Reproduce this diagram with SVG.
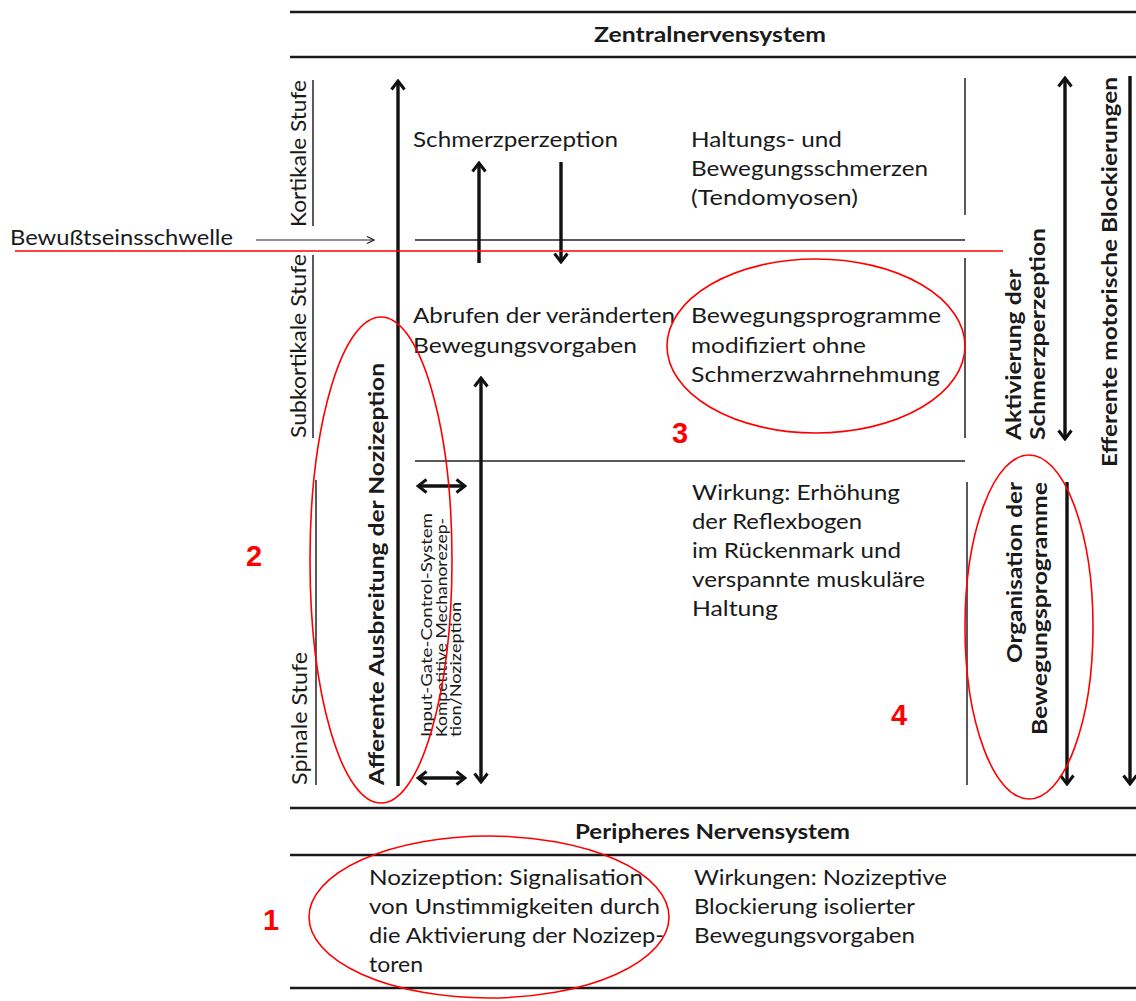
<svg xmlns="http://www.w3.org/2000/svg" width="1136" height="1001" viewBox="0 0 1136 1001">
<defs>
<style>
.t{font-family:Lato,"Open Sans","Liberation Sans",sans-serif;font-size:21.5px;fill:#1a1a1a}
.b{font-weight:bold}
.s{font-size:15.5px}
.num{font-family:"Liberation Sans",Arial,sans-serif;font-weight:bold;font-size:29px;fill:#f00}
.rule{stroke:#1a1a1a;stroke-width:2.6;fill:none}
.thin{stroke:#222;stroke-width:1.5;fill:none}
.arr{stroke:#111;stroke-width:3.4;fill:none}
.red{stroke:#f00;stroke-width:1.6;fill:none}
</style>
<marker id="ah" markerUnits="userSpaceOnUse" viewBox="-12 -9 14 18" refX="0" refY="0" markerWidth="14" markerHeight="18" orient="auto-start-reverse">
<path d="M-8.5,-6.5 L0,0 L-8.5,6.5" fill="none" stroke="#111" stroke-width="3"/>
</marker>
<marker id="ahs" markerUnits="userSpaceOnUse" viewBox="-9 -5 10 10" refX="0" refY="0" markerWidth="10" markerHeight="10" orient="auto">
<path d="M-7,-3.5 L0,0 L-7,3.5" fill="none" stroke="#222" stroke-width="1.2"/>
</marker>
</defs>
<rect width="1136" height="1001" fill="#fff"/>

<g id="frame">
<line class="rule" x1="290" y1="12" x2="1136" y2="12"/>
<line class="rule" x1="290" y1="57" x2="1136" y2="57"/>
<line class="rule" x1="290" y1="808" x2="1136" y2="808"/>
<line class="rule" x1="290" y1="855" x2="1136" y2="855"/>
<line class="rule" x1="290" y1="988" x2="1136" y2="988"/>
<line class="thin" x1="313" y1="80" x2="313" y2="226"/>
<line class="thin" x1="313" y1="255" x2="313" y2="438"/>
<line class="thin" x1="316" y1="480" x2="316" y2="785"/>
<line class="thin" x1="415" y1="240" x2="965" y2="240"/>
<line class="thin" x1="415" y1="461" x2="965" y2="461"/>
<line class="thin" x1="965" y1="78" x2="965" y2="215"/>
<line class="thin" x1="965" y1="258" x2="965" y2="438"/>
<line class="thin" x1="967" y1="482" x2="967" y2="785"/>
</g>

<g id="title-zns"><text class="t b" x="594" y="42" textLength="232" lengthAdjust="spacingAndGlyphs">Zentralnervensystem</text></g>
<g id="title-pns"><text class="t b" x="575" y="839" textLength="275" lengthAdjust="spacingAndGlyphs">Peripheres Nervensystem</text></g>

<g id="level-kortikal"><text class="t" transform="translate(306,227) rotate(-90)" textLength="147" lengthAdjust="spacingAndGlyphs">Kortikale Stufe</text></g>
<g id="level-subkortikal"><text class="t" transform="translate(306,438) rotate(-90)" textLength="184" lengthAdjust="spacingAndGlyphs">Subkortikale Stufe</text></g>
<g id="level-spinal"><text class="t" transform="translate(307,785) rotate(-90)" textLength="133" lengthAdjust="spacingAndGlyphs">Spinale Stufe</text></g>

<g id="threshold">
<text class="t" x="10" y="245" textLength="223" lengthAdjust="spacingAndGlyphs">Bewußtseinsschwelle</text>
</g>

<g id="afferent"><text class="t b" transform="translate(384,785) rotate(-90)" textLength="422" lengthAdjust="spacingAndGlyphs">Afferente Ausbreitung der Nozizeption</text></g>

<g id="schmerzperzeption"><text class="t" x="413" y="147" textLength="205" lengthAdjust="spacingAndGlyphs">Schmerzperzeption</text></g>

<g id="haltungsschmerzen">
<text class="t" x="691" y="147" textLength="151" lengthAdjust="spacingAndGlyphs">Haltungs- und</text>
<text class="t" x="691" y="176" textLength="237" lengthAdjust="spacingAndGlyphs">Bewegungsschmerzen</text>
<text class="t" x="691" y="205" textLength="167" lengthAdjust="spacingAndGlyphs">(Tendomyosen)</text>
</g>

<g id="abrufen">
<text class="t" x="413" y="323" textLength="262" lengthAdjust="spacingAndGlyphs">Abrufen der veränderten</text>
<text class="t" x="413" y="353" textLength="224" lengthAdjust="spacingAndGlyphs">Bewegungsvorgaben</text>
</g>

<g id="bewegungsprogramme">
<text class="t" x="691" y="323" textLength="250" lengthAdjust="spacingAndGlyphs">Bewegungsprogramme</text>
<text class="t" x="691" y="353" textLength="175" lengthAdjust="spacingAndGlyphs">modifiziert ohne</text>
<text class="t" x="691" y="382" textLength="249" lengthAdjust="spacingAndGlyphs">Schmerzwahrnehmung</text>
</g>

<g id="gate-control">
<text class="t s" transform="translate(432,737) rotate(-90)" textLength="224" lengthAdjust="spacingAndGlyphs">Input-Gate-Control-System</text>
<text class="t s" transform="translate(447,737) rotate(-90)" textLength="219" lengthAdjust="spacingAndGlyphs">Kompetitive Mechanorezep-</text>
<text class="t s" transform="translate(461,737) rotate(-90)" textLength="135" lengthAdjust="spacingAndGlyphs">tion/Nozizeption</text>
</g>

<g id="wirkung">
<text class="t" x="692" y="500" textLength="208" lengthAdjust="spacingAndGlyphs">Wirkung: Erhöhung</text>
<text class="t" x="692" y="529" textLength="170" lengthAdjust="spacingAndGlyphs">der Reflexbogen</text>
<text class="t" x="692" y="558" textLength="209" lengthAdjust="spacingAndGlyphs">im Rückenmark und</text>
<text class="t" x="692" y="587" textLength="233" lengthAdjust="spacingAndGlyphs">verspannte muskuläre</text>
<text class="t" x="692" y="616" textLength="86" lengthAdjust="spacingAndGlyphs">Haltung</text>
</g>

<g id="aktivierung">
<text class="t b" transform="translate(1021,440) rotate(-90)" textLength="171" lengthAdjust="spacingAndGlyphs">Aktivierung der</text>
<text class="t b" transform="translate(1045,440) rotate(-90)" textLength="212" lengthAdjust="spacingAndGlyphs">Schmerzperzeption</text>
</g>

<g id="efferent"><text class="t b" transform="translate(1117,467) rotate(-90)" textLength="390" lengthAdjust="spacingAndGlyphs">Efferente motorische Blockierungen</text></g>

<g id="organisation">
<text class="t b" transform="translate(1022,663) rotate(-90)" textLength="181" lengthAdjust="spacingAndGlyphs">Organisation der</text>
<text class="t b" transform="translate(1047,735) rotate(-90)" textLength="253" lengthAdjust="spacingAndGlyphs">Bewegungsprogramme</text>
</g>

<g id="nozizeption">
<text class="t" x="369" y="885" textLength="274" lengthAdjust="spacingAndGlyphs">Nozizeption: Signalisation</text>
<text class="t" x="369" y="914" textLength="291" lengthAdjust="spacingAndGlyphs">von Unstimmigkeiten durch</text>
<text class="t" x="369" y="943" textLength="295" lengthAdjust="spacingAndGlyphs">die Aktivierung der Nozizep-</text>
<text class="t" x="369" y="972" textLength="54" lengthAdjust="spacingAndGlyphs">toren</text>
</g>

<g id="wirkungen-peripher">
<text class="t" x="694" y="885" textLength="253" lengthAdjust="spacingAndGlyphs">Wirkungen: Nozizeptive</text>
<text class="t" x="694" y="914" textLength="221" lengthAdjust="spacingAndGlyphs">Blockierung isolierter</text>
<text class="t" x="694" y="943" textLength="221" lengthAdjust="spacingAndGlyphs">Bewegungsvorgaben</text>
</g>

<g id="connectors">
<line x1="256" y1="240" x2="374" y2="240" stroke="#222" stroke-width="1.2" marker-end="url(#ahs)"/>
<line class="arr" x1="398" y1="786" x2="398" y2="81" marker-end="url(#ah)"/>
<line class="arr" x1="479" y1="263" x2="479" y2="163" marker-end="url(#ah)"/>
<line class="arr" x1="561" y1="162" x2="561" y2="262" marker-end="url(#ah)"/>
<line class="arr" x1="481" y1="378" x2="481" y2="782" marker-start="url(#ah)" marker-end="url(#ah)"/>
<line class="arr" x1="418" y1="486" x2="465" y2="486" marker-start="url(#ah)" marker-end="url(#ah)"/>
<line class="arr" x1="418" y1="778" x2="465" y2="778" marker-start="url(#ah)" marker-end="url(#ah)"/>
<line class="arr" x1="1065" y1="78" x2="1065" y2="439" marker-start="url(#ah)" marker-end="url(#ah)"/>
<line class="arr" x1="1067" y1="482" x2="1067" y2="784" marker-end="url(#ah)"/>
<line class="arr" x1="1130" y1="76" x2="1130" y2="784" marker-end="url(#ah)"/>
</g>

<g id="annotations">
<line x1="15" y1="251" x2="1003" y2="251" stroke="#f00" stroke-width="1.6"/>
<ellipse class="red" cx="489" cy="917" rx="180" ry="81"/>
<ellipse class="red" cx="381" cy="560" rx="71" ry="243"/>
<ellipse class="red" cx="816" cy="346" rx="149" ry="87"/>
<ellipse class="red" cx="1029" cy="627" rx="64" ry="172"/>
<text class="num" x="263" y="930">1</text>
<text class="num" x="246" y="566">2</text>
<text class="num" x="672" y="443">3</text>
<text class="num" x="891" y="725">4</text>
</g>
</svg>
